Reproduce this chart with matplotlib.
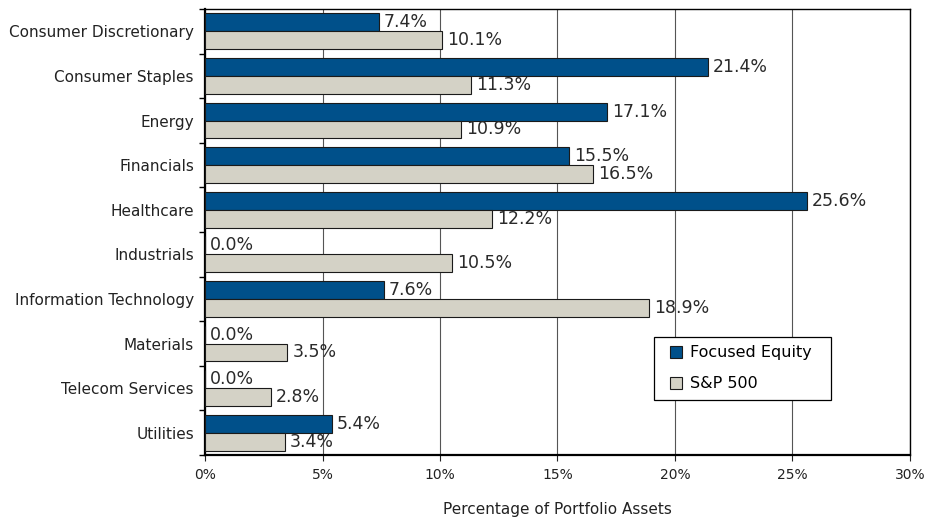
import matplotlib.pyplot as plt
import numpy as np
from matplotlib.lines import Line2D
from matplotlib.ticker import FixedLocator, PercentFormatter

# Sector weights, Focused Equity vs S&P 500
sectors = ['Consumer Discretionary', 'Consumer Staples', 'Energy', 'Financials',
           'Healthcare', 'Industrials', 'Information Technology', 'Materials',
           'Telecom Services', 'Utilities']
focused = [7.4, 21.4, 17.1, 15.5, 25.6, 0.0, 7.6, 0.0, 0.0, 5.4]
sp500 = [10.1, 11.3, 10.9, 16.5, 12.2, 10.5, 18.9, 3.5, 2.8, 3.4]

BLUE = '#00508a'
GREY = '#d4d2c6'


def plot_graph():
    fig, ax = plt.subplots(figsize=(9.26, 5.18), dpi=100)
    fig.subplots_adjust(left=0.2214, right=0.9827, top=0.9826, bottom=0.1216)

    y = np.arange(len(sectors))
    h = 0.4
    b1 = ax.barh(y - h / 2, focused, height=h, color=BLUE, edgecolor='#1a1a1a',
                 linewidth=0.8, zorder=3)
    b2 = ax.barh(y + h / 2, sp500, height=h, color=GREY, edgecolor='#1a1a1a',
                 linewidth=0.8, zorder=3)

    # value labels at the end of each bar
    for bars, vals in ((b1, focused), (b2, sp500)):
        for bar, v in zip(bars, vals):
            ax.text(bar.get_width() + 0.22, bar.get_y() + bar.get_height() / 2,
                    f'{v:.1f}%', va='center', ha='left', fontsize=12.5,
                    color='#2a2a2a', zorder=4)

    ax.set_xlim(0, 30)
    ax.set_ylim(len(sectors) - 0.5, -0.5)
    ax.set_xticks(range(0, 31, 5))
    ax.xaxis.set_major_formatter(PercentFormatter(decimals=0))
    ax.set_yticks(y)
    ax.set_yticklabels(sectors, fontsize=11, color='#222222')
    ax.yaxis.set_minor_locator(FixedLocator(np.arange(-0.5, len(sectors), 1)))
    ax.tick_params(axis='y', which='major', length=0, pad=8)
    ax.tick_params(axis='y', which='minor', length=4, width=1)
    ax.tick_params(axis='x', labelsize=10, length=4, pad=5, colors='#222222')

    ax.xaxis.grid(True, color='#555555', linewidth=0.8, zorder=0)
    for s in ax.spines.values():
        s.set_linewidth(1)
    ax.spines['bottom'].set_linewidth(1.6)
    ax.spines['left'].set_linewidth(1.6)

    ax.set_xlabel('Percentage of Portfolio Assets', fontsize=11, labelpad=15, color='#222222')

    handles = [Line2D([], [], marker='s', linestyle='none', markersize=8,
                      markerfacecolor=c, markeredgecolor='#1a1a1a', markeredgewidth=0.8)
               for c in (BLUE, GREY)]
    leg = ax.legend(handles, ['Focused Equity  ', 'S&P 500'], loc='lower left',
                    bbox_to_anchor=(0.637, 0.123), fontsize=11.5,
                    frameon=True, fancybox=False, edgecolor='black', framealpha=1,
                    handlelength=1.6, handletextpad=0.1,
                    labelspacing=1.0, borderpad=0.55, borderaxespad=0)
    leg.get_frame().set_linewidth(0.9)

    plt.savefig('out.png', dpi=100)


plot_graph()
